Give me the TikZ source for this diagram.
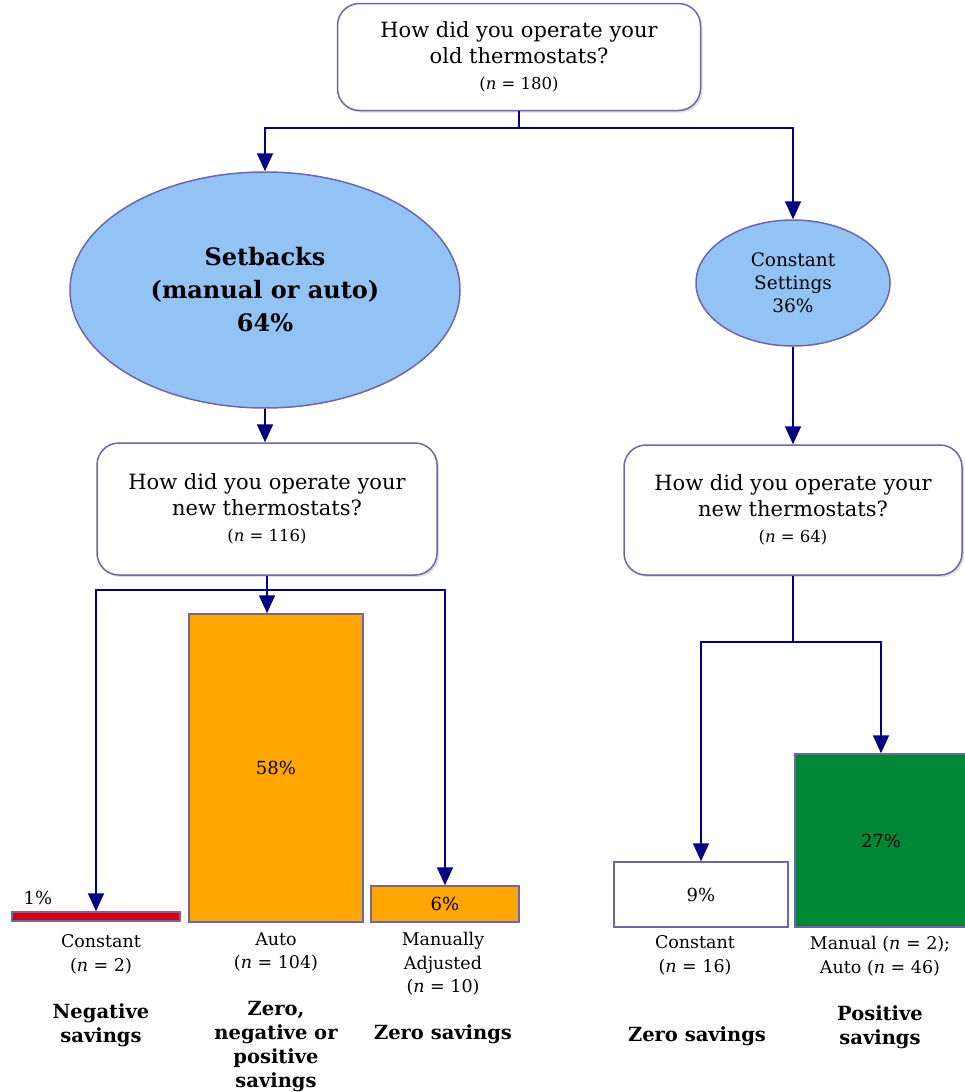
\documentclass[tikz,border=0pt]{standalone}
\usepackage{fontspec}
\setmainfont{DejaVu Serif}
\usepackage{tikz}
\usetikzlibrary{arrows.meta,shapes.geometric,shadows}

\definecolor{frame}{HTML}{6E66A6}
\definecolor{navy}{HTML}{000080}
\definecolor{sky}{HTML}{93C3F5}
\definecolor{amber}{HTML}{FFA500}
\definecolor{leaf}{HTML}{008837}
\definecolor{scarlet}{HTML}{D00010}

\tikzset{
  qbox/.style={draw=frame, line width=1.5pt, rounded corners=22pt, fill=white,
    align=center, inner sep=0pt, drop shadow={opacity=0.25,shadow xshift=2pt,shadow yshift=-2pt},
    font=\fontsize{21}{26}\selectfont},
  blob/.style={ellipse, draw=frame, line width=1.5pt, fill=sky, align=center, inner sep=0pt},
  bar/.style={draw=frame, line width=1.5pt, inner sep=0pt,
    font=\fontsize{18}{20}\selectfont},
  lbl/.style={align=center, font=\fontsize{17.5}{23.5}\selectfont},
  verdict/.style={align=center, font=\fontsize{19.5}{24}\selectfont\bfseries},
  link/.style={draw=navy, line width=1.8pt, -{Triangle[length=18pt,width=16pt]}},
  wire/.style={draw=navy, line width=1.8pt}
}
\newcommand{\nsize}[1]{{\fontsize{16.5}{22}\selectfont(\textit{n} = #1)}}

\begin{document}
\begin{tikzpicture}[x=1pt,y=-1pt]
	\useasboundingbox (0,0) rectangle (964,1092);
	% questions
	\node[qbox, minimum width=363pt, minimum height=107pt] (old) at (519,57)
		{How did you operate your\\old thermostats?\\\nsize{180}};
	\node[qbox, minimum width=340pt, minimum height=132pt] (newL) at (267,509)
		{How did you operate your\\new thermostats?\\\nsize{116}};
	\node[qbox, minimum width=338pt, minimum height=130pt] (newR) at (793,510)
		{How did you operate your\\new thermostats?\\\nsize{64}};
	% groups
	\node[blob, minimum width=390pt, minimum height=236pt,
		font=\fontsize{24}{33}\selectfont\bfseries] (setbacks) at (265,290)
		{Setbacks\\(manual or auto)\\64\%};
	\node[blob, minimum width=194pt, minimum height=126pt,
		font=\fontsize{18.5}{23}\selectfont] (constant) at (793,283)
		{Constant\\Settings\\36\%};
	% bars
	\node[bar, fill=scarlet, minimum width=168pt, minimum height=9pt] (constL) at (96,916.5) {};
	\node[anchor=base, font=\fontsize{18}{20}\selectfont] (pctL) at (38,904) {1\%};
	\node[bar, fill=amber, minimum width=174pt, minimum height=308pt] (autoL) at (276,768) {58\%};
	\node[bar, fill=amber, minimum width=148pt, minimum height=36pt] (manL) at (445,904) {6\%};
	\node[bar, fill=white, minimum width=174pt, minimum height=65pt] (constR) at (701,894.5) {9\%};
	\node[bar, fill=leaf, minimum width=172pt, minimum height=173pt] (posR) at (881,840.5) {27\%};
	% labels
	\node[lbl, anchor=north] (lConstL) at (101,931) {Constant\\(\textit{n} = 2)};
	\node[lbl, anchor=north] (lAutoL) at (276,929) {Auto\\(\textit{n} = 104)};
	\node[lbl, anchor=north] (lManL) at (443,929) {Manually\\Adjusted\\(\textit{n} = 10)};
	\node[lbl, anchor=north] (lConstR) at (695,932) {Constant\\(\textit{n} = 16)};
	\node[lbl, anchor=north] (lPosR) at (880,933) {Manual (\textit{n} = 2);\\Auto (\textit{n} = 46)};
	\node[verdict, anchor=north] (vConstL) at (101,1000) {Negative\\savings};
	\node[verdict, anchor=north] (vAutoL) at (276,998) {Zero,\\negative or\\positive\\savings};
	\node[verdict, anchor=north] (vManL) at (443,1021) {Zero savings};
	\node[verdict, anchor=north] (vConstR) at (697,1023) {Zero savings};
	\node[verdict, anchor=north] (vPosR) at (880,1002) {Positive\\savings};
	% connectors
	\coordinate (jTop) at (519,128);
	\coordinate (jL) at (267,590);
	\coordinate (jR) at (793,642);
	\draw[wire] (old.south) -- (jTop);
	\draw[link] (jTop) -| (setbacks.north);
	\draw[link] (jTop) -| (constant.north);
	\draw[link] (setbacks.south) -- (setbacks.south |- newL.north);
	\draw[link] (constant.south) -- (newR.north);
	\draw[wire] (newL.south) -- (jL);
	\draw[link] (jL) -| (constL.north);
	\draw[link] (jL) -- (jL |- autoL.north);
	\draw[link] (jL) -| (manL.north);
	\draw[wire] (newR.south) -- (jR);
	\draw[link] (jR) -| (constR.north);
	\draw[link] (jR) -| (posR.north);
\end{tikzpicture}
\end{document}
